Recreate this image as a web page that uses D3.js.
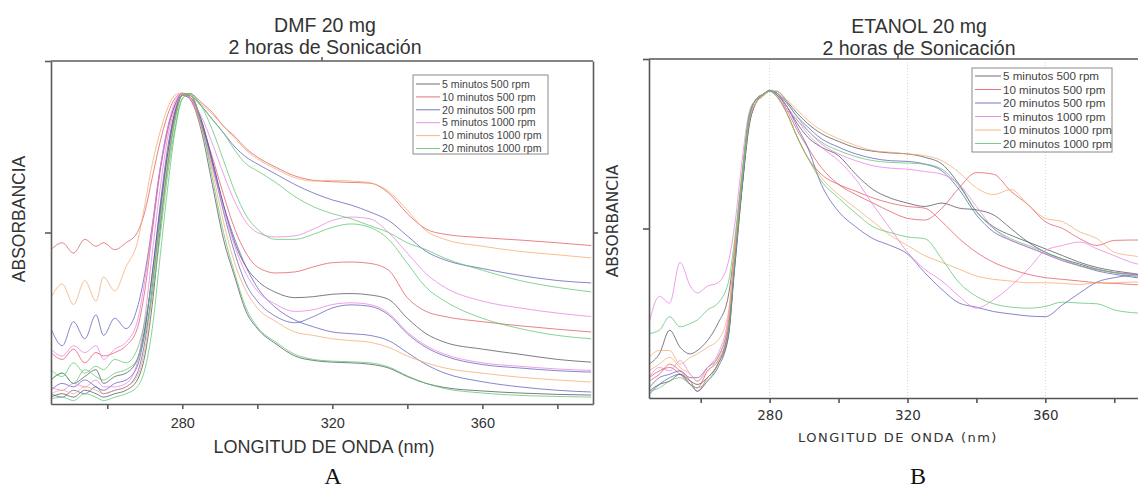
<!DOCTYPE html>
<html>
<head>
<meta charset="utf-8">
<script src="https://cdn.jsdelivr.net/npm/d3@7"></script>
<style>
  body { margin: 0; background: #fff; }
  svg { display: block; }
  text { font-family: "Liberation Sans", Arial, sans-serif; fill: #333; }
</style>
</head>
<body>
<div id="container"></div>
<script>
let w = 1138;
let h = 490;

// legend entries, same for both panels
let legendNames = ["5 minutos 500 rpm", "10 minutos 500 rpm", "20 minutos 500 rpm",
                   "5 minutos 1000 rpm", "10 minutos 1000 rpm", "20 minutos 1000 rpm"];
let legendColors = ["#4a4a58", "#e0525c", "#5858b4", "#e77ae0", "#f3a868", "#58c268"];

let xTicks = [260, 280, 300, 320, 340, 360, 380];
let xLabels = [280, 320, 360];

// ---- panel A : DMF (absorbance normalised) ----
let wavelengthDMF = [245, 248, 251, 254, 257, 259, 262, 265, 268, 270, 272, 274, 276, 278,
  280, 282, 285, 288, 291, 294, 297, 300, 305, 310, 315, 320, 325, 330, 335, 340, 345, 350,
  360, 370, 380, 389];

let dmf5min500a = [.02,.03,.02,.04,.03,.02,.03,.04,.07, .14,.29,.50,.69,.83,
  .90,.89,.80,.64,.48,.37,.27, .22,.175,.14,.127,.122,.12,.116,.105,.08,.06,.048,
  .038,.032,.028,.026];
let dmf5min500b = [.07,.09,.06,.08,.10,.06,.08,.09,.13, .22,.38,.56,.72,.84,
  .90,.90,.83,.71,.58,.47,.40, .36,.325,.31,.313,.32,.322,.318,.305,.25,.205,.18,
  .16,.145,.13,.122];
let dmf10min500a = [.45,.47,.44,.48,.46,.47,.45,.47,.50, .56,.66,.76,.84,.89,
  .905,.905,.88,.85,.81,.78,.745, .72,.69,.665,.652,.648,.646,.644,.615,.555,.51,.495,
  .485,.478,.47,.462];
let dmf10min500b = [.15,.13,.16,.12,.15,.14,.15,.17,.22, .33,.50,.67,.79,.87,
  .905,.89,.82,.72,.61,.51,.44, .40,.382,.385,.40,.412,.414,.41,.39,.31,.27,.255,
  .24,.228,.218,.21];
let dmf20min500a = [.22,.17,.24,.19,.26,.20,.25,.22,.28, .38,.52,.68,.80,.87,
  .905,.90,.87,.83,.79,.75,.72, .70,.67,.64,.615,.595,.58,.56,.535,.49,.445,.42,
  .395,.375,.36,.353];
let dmf20min500b = [.04,.06,.05,.07,.05,.04,.06,.07,.11, .21,.38,.57,.74,.85,
  .90,.895,.82,.70,.56,.44,.35, .30,.255,.237,.255,.28,.289,.285,.26,.205,.165,.14,
  .115,.105,.097,.093];
let dmf20min500c = [.03,.02,.04,.03,.05,.03,.04,.05,.09, .18,.34,.54,.72,.85,
  .90,.895,.83,.71,.58,.48,.40, .34,.28,.245,.225,.21,.205,.20,.185,.15,.115,.09,
  .065,.05,.04,.035];
let dmf5min1000a = [.16,.14,.17,.15,.17,.13,.16,.18,.24, .36,.52,.68,.80,.88,
  .905,.89,.84,.76,.67,.59,.53, .50,.487,.49,.51,.535,.545,.54,.50,.44,.38,.34,
  .30,.28,.265,.255];
let dmf5min1000b = [.05,.04,.06,.05,.07,.05,.05,.06,.12, .25,.44,.62,.77,.86,
  .905,.89,.81,.69,.57,.46,.38, .33,.29,.27,.275,.29,.295,.29,.265,.21,.17,.145,
  .12,.11,.102,.098];
let dmf10min1000a = [.31,.35,.29,.36,.30,.37,.33,.40,.47, .58,.70,.79,.86,.90,
  .907,.90,.875,.845,.81,.775,.74, .715,.685,.66,.65,.652,.65,.645,.62,.565,.505,.48,
  .46,.445,.435,.426];
let dmf10min1000b = [.03,.04,.03,.05,.04,.03,.04,.05,.08, .16,.32,.52,.70,.83,
  .90,.895,.81,.68,.53,.41,.33, .28,.24,.21,.20,.19,.185,.18,.165,.14,.12,.105,
  .09,.078,.07,.064];
let dmf20min1000a = [.10,.08,.12,.09,.11,.10,.13,.12,.16, .24,.36,.52,.68,.82,
  .90,.905,.87,.83,.79,.74,.70, .68,.645,.605,.575,.555,.54,.52,.50,.47,.45,.425,
  .39,.36,.34,.327];
let dmf20min1000b = [.07,.09,.06,.10,.08,.07,.09,.10,.13, .20,.32,.48,.66,.80,
  .89,.905,.87,.80,.71,.62,.55, .51,.48,.48,.495,.515,.525,.515,.48,.41,.34,.30,
  .25,.22,.20,.19];
let dmf20min1000c = [.015,.02,.01,.03,.02,.01,.02,.03,.05, .10,.22,.42,.62,.79,
  .89,.905,.82,.66,.50,.38,.28, .225,.18,.145,.13,.125,.123,.12,.108,.082,.06,.045,
  .032,.025,.022,.02];

// ---- panel B : ETANOL ----
let wavelengthEtanol = [245, 248, 251, 254, 257, 259, 262, 265, 268, 270, 272, 274, 276, 278,
  280, 282, 285, 288, 291, 295, 300, 305, 310, 315, 320, 325, 330, 335, 340, 345, 350,
  355, 360, 365, 370, 375, 380, 385, 389];

let eta5min500a = [.02,.04,.05,.07,.05,.04,.06,.10,.18, .42,.64,.83,.88,.895,
  .905,.905,.875,.84,.81, .78,.757,.738,.728,.723,.72,.71,.69,.63,.55,.505,.48,
  .46,.44,.42,.40,.385,.375,.368,.362];
let eta5min500b = [.10,.13,.20,.15,.13,.14,.17,.22,.30, .45,.62,.80,.87,.895,
  .905,.90,.86,.81,.77, .74,.715,.66,.615,.59,.575,.565,.575,.56,.555,.54,.50,
  .46,.43,.41,.395,.38,.37,.365,.36];
let eta10min500a = [.06,.08,.09,.07,.04,.03,.08,.11,.20, .42,.64,.82,.88,.895,
  .905,.90,.85,.79,.74, .68,.63,.60,.575,.55,.53,.525,.56,.62,.665,.66,.61,
  .57,.52,.50,.47,.45,.465,.466,.466];
let eta10min500b = [.05,.07,.10,.08,.05,.02,.06,.10,.20, .43,.65,.82,.88,.895,
  .905,.895,.84,.77,.71, .66,.63,.61,.59,.575,.565,.56,.52,.47,.43,.40,.38,
  .365,.355,.35,.345,.34,.338,.335,.333];
let eta20min500a = [.01,.04,.06,.07,.04,.02,.05,.09,.18, .40,.62,.82,.88,.895,
  .908,.90,.87,.83,.80, .765,.74,.72,.707,.70,.698,.69,.67,.615,.54,.49,.465,
  .445,.425,.405,.39,.375,.365,.357,.352];
let eta20min500b = [.03,.06,.07,.08,.06,.06,.09,.12,.22, .40,.62,.80,.87,.89,
  .905,.895,.86,.80,.74, .63,.55,.505,.47,.45,.425,.37,.32,.28,.268,.255,.248,
  .242,.24,.275,.31,.342,.355,.362,.365];
let eta5min1000a = [.22,.30,.28,.40,.33,.31,.33,.34,.40, .52,.70,.84,.88,.895,
  .905,.89,.85,.82,.78, .74,.70,.645,.57,.50,.43,.38,.345,.30,.265,.29,.33,
  .38,.435,.45,.46,.44,.42,.40,.39];
let eta5min1000b = [.06,.09,.08,.11,.07,.05,.09,.13,.24, .46,.66,.82,.87,.89,
  .905,.90,.86,.82,.79, .75,.72,.70,.685,.678,.675,.668,.66,.63,.565,.50,.465,
  .445,.425,.405,.39,.38,.37,.365,.36];
let eta10min1000a = [.12,.14,.14,.10,.12,.13,.15,.17,.25, .46,.66,.82,.88,.895,
  .905,.905,.88,.85,.82, .79,.765,.745,.73,.725,.72,.715,.70,.665,.62,.60,.615,
  .57,.53,.52,.49,.47,.43,.42,.415];
let eta10min1000b = [.08,.10,.12,.09,.07,.05,.08,.12,.22, .44,.64,.81,.87,.89,
  .905,.89,.84,.77,.71, .65,.60,.56,.52,.48,.45,.42,.40,.38,.36,.35,.345,
  .34,.34,.338,.335,.34,.34,.342,.342];
let eta20min1000a = [.19,.20,.24,.21,.22,.23,.26,.28,.34, .48,.66,.83,.88,.895,
  .905,.89,.84,.77,.71, .64,.59,.545,.505,.488,.475,.47,.41,.34,.30,.278,.268,
  .265,.27,.283,.28,.278,.26,.252,.25];
let eta20min1000b = [.02,.03,.05,.06,.04,.03,.05,.10,.19, .41,.63,.82,.88,.895,
  .905,.90,.87,.83,.79, .755,.73,.712,.70,.695,.693,.69,.675,.625,.55,.50,.47,
  .45,.43,.41,.39,.378,.37,.36,.355];

// series tables built from the arrays above (c = legend index)
let dmfSeries = [
  {c: 0, v: dmf5min500a}, {c: 0, v: dmf5min500b},
  {c: 1, v: dmf10min500a}, {c: 1, v: dmf10min500b},
  {c: 2, v: dmf20min500a}, {c: 2, v: dmf20min500b}, {c: 2, v: dmf20min500c},
  {c: 3, v: dmf5min1000a}, {c: 3, v: dmf5min1000b},
  {c: 4, v: dmf10min1000a}, {c: 4, v: dmf10min1000b},
  {c: 5, v: dmf20min1000a}, {c: 5, v: dmf20min1000b}, {c: 5, v: dmf20min1000c}
];
let etaSeries = [
  {c: 0, v: eta5min500a}, {c: 0, v: eta5min500b},
  {c: 1, v: eta10min500a}, {c: 1, v: eta10min500b},
  {c: 2, v: eta20min500a}, {c: 2, v: eta20min500b},
  {c: 3, v: eta5min1000a}, {c: 3, v: eta5min1000b},
  {c: 4, v: eta10min1000a}, {c: 4, v: eta10min1000b},
  {c: 5, v: eta20min1000a}, {c: 5, v: eta20min1000b}
];

let viz = d3.select("#container")
  .append("svg")
  .attr("width", w)
  .attr("height", h)
  .style("background-color", "white");

function drawPanel(p) {
  let g = viz.append("g").attr("class", p.id);

  let xScale = d3.scaleLinear().domain([245, 389.5]).range([p.left, p.right]);
  let yScale = d3.scaleLinear().domain([0, 1]).range([p.bottom, p.top]);

  g.append("clipPath").attr("id", "clip-" + p.id)
    .append("rect")
    .attr("x", p.left).attr("y", p.top)
    .attr("width", p.right - p.left).attr("height", p.bottom - p.top);

  // faint dotted gridlines (only on the ethanol plot)
  if (p.grid) {
    g.selectAll(".grid").data(xLabels).enter()
      .append("line")
      .attr("class", "grid")
      .attr("x1", d => xScale(d)).attr("x2", d => xScale(d))
      .attr("y1", p.top).attr("y2", p.bottom)
      .style("stroke", "#d4d4d4")
      .style("stroke-dasharray", "1,2");
  }

  // the spectra
  let line = d3.line()
    .x((d, i) => xScale(p.wl[i]))
    .y(d => yScale(d))
    .curve(d3.curveMonotoneX);

  g.append("g").attr("clip-path", "url(#clip-" + p.id + ")")
    .selectAll("path").data(p.series).enter()
    .append("path")
    .attr("d", d => line(d.v))
    .style("fill", "none")
    .style("stroke", d => legendColors[d.c])
    .style("stroke-width", 1)
    .style("opacity", 0.72);

  // x axis
  let xAxis = d3.axisBottom(xScale)
    .tickValues(xTicks)
    .tickSize(5)
    .tickSizeOuter(0)
    .tickPadding(p.tickPad)
    .tickFormat(d => xLabels.includes(d) ? d : "");
  let xg = g.append("g").attr("transform", "translate(0," + p.bottom + ")").call(xAxis);
  xg.selectAll("text").style("font-size", p.tickFont + "px").style("fill", "#333")
    .style("font-family", p.tickFamily);

  // y axis, no numbers
  let yAxis = d3.axisLeft(yScale).tickValues([0.5, 1]).tickSize(6).tickSizeOuter(0).tickFormat("");
  g.append("g").attr("transform", "translate(" + p.left + ",0)").call(yAxis);

  // top frame + small center tick
  g.append("line")
    .attr("x1", p.left).attr("x2", p.right)
    .attr("y1", p.top).attr("y2", p.top);
  g.append("line")
    .attr("x1", (p.left + p.right) / 2).attr("x2", (p.left + p.right) / 2)
    .attr("y1", p.top).attr("y2", p.top - 4);

  if (p.rightFrame) {
    let rAxis = d3.axisRight(yScale).tickValues([0.5]).tickSize(5).tickSizeOuter(0).tickFormat("");
    g.append("g").attr("transform", "translate(" + p.right + ",0)").call(rAxis);
  }

  g.selectAll("path.domain, .tick line, line:not(.grid)")
    .style("stroke", p.axisColor)
    .style("stroke-width", 1.6);

  // legend
  let lg = g.append("g").attr("class", "legend");
  lg.append("rect")
    .attr("x", p.legend.x).attr("y", p.legend.y)
    .attr("width", p.legend.w).attr("height", p.legend.h)
    .style("fill", "white").style("stroke", "#8a8a8a").style("stroke-width", 1);
  let rows = lg.selectAll(".row").data(legendNames).enter()
    .append("g").attr("class", "row")
    .attr("transform", (d, i) => "translate(" + p.legend.x + "," + (p.legend.y + p.legend.first + i * p.legend.step) + ")");
  rows.append("line")
    .attr("x1", 3).attr("x2", p.legend.lineLen)
    .style("stroke", (d, i) => legendColors[i]).style("stroke-width", 1)
    .style("opacity", 0.8);
  rows.append("text")
    .attr("x", p.legend.lineLen + 2)
    .attr("dy", "0.35em")
    .style("font-size", p.legend.font + "px")
    .style("fill", "#444")
    .text(d => d);

  // titles and labels
  let cx = p.titleX;
  g.append("text").attr("x", cx).attr("y", p.titleY1).attr("text-anchor", "middle")
    .style("font-size", "19.5px").text(p.title);
  g.append("text").attr("x", cx).attr("y", p.titleY2).attr("text-anchor", "middle")
    .style("font-size", "19.5px").text("2 horas de Sonicación");

  g.append("text")
    .attr("transform", "translate(" + p.yLabelX + "," + p.yLabelY + ") rotate(-90)")
    .attr("text-anchor", "middle")
    .style("font-size", p.yLabelFont + "px")
    .style("font-family", p.labelFamily)
    .text("ABSORBANCIA");

  g.append("text")
    .attr("x", p.xLabelX).attr("y", p.xLabelY)
    .attr("text-anchor", "middle")
    .style("font-size", p.xLabelFont + "px")
    .style("font-family", p.labelFamily)
    .style("letter-spacing", p.xLabelSpacing + "px")
    .text("LONGITUD DE ONDA (nm)");

  g.append("text")
    .attr("x", p.letterX).attr("y", 484)
    .attr("text-anchor", "middle")
    .style("font-family", "'Liberation Serif', 'Times New Roman', serif")
    .style("font-size", "24px")
    .style("fill", "#111")
    .text(p.letter);
}

drawPanel({
  id: "dmf", wl: wavelengthDMF, series: dmfSeries,
  left: 51, right: 593, top: 61, bottom: 404,
  grid: false, rightFrame: true, axisColor: "#5c5c5c",
  tickFont: 14.5, tickPad: 9, tickFamily: "'Liberation Sans', Arial, sans-serif",
  legend: {x: 413, y: 75, w: 135, h: 79, first: 9, step: 12.9, lineLen: 27, font: 10.6},
  title: "DMF 20 mg", titleX: 325, titleY1: 32, titleY2: 54,
  yLabelX: 25, yLabelY: 219, yLabelFont: 17.5,
  xLabelX: 324, xLabelY: 453, xLabelFont: 18, xLabelSpacing: 0,
  labelFamily: "'Liberation Sans', Arial, sans-serif",
  letter: "A", letterX: 333
});

drawPanel({
  id: "eta", wl: wavelengthEtanol, series: etaSeries,
  left: 649, right: 1147, top: 59, bottom: 398,
  grid: true, rightFrame: false, axisColor: "#555",
  tickFont: 13.5, tickPad: 7, tickFamily: "'DejaVu Sans', sans-serif",
  legend: {x: 972, y: 68, w: 140, h: 84, first: 8, step: 13.5, lineLen: 29, font: 11.6},
  title: "ETANOL 20 mg", titleX: 919, titleY1: 33, titleY2: 55,
  yLabelX: 618, yLabelY: 221, yLabelFont: 15.5,
  xLabelX: 898, xLabelY: 442, xLabelFont: 13, xLabelSpacing: 1.5,
  labelFamily: "'DejaVu Sans', sans-serif",
  letter: "B", letterX: 918
});
</script>
</body>
</html>
